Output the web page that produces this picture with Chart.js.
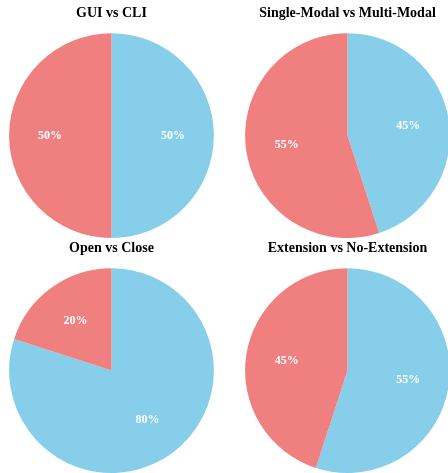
<!DOCTYPE html>
<html>
<head>
<meta charset="utf-8">
<script src="https://cdn.jsdelivr.net/npm/chart.js@4/dist/chart.umd.min.js"></script>
<style>
  html, body { margin: 0; padding: 0; background: #ffffff; overflow: hidden; width: 448px; height: 473px; }
  .cell { position: absolute; width: 205px; height: 238px; }
</style>
</head>
<body>
<div class="cell" style="left:8.5px; top:0px;"><canvas id="p0" width="205" height="238"></canvas></div>
<div class="cell" style="left:244.5px; top:0px;"><canvas id="p1" width="205" height="238"></canvas></div>
<div class="cell" style="left:8.5px; top:235.3px;"><canvas id="p2" width="205" height="238"></canvas></div>
<div class="cell" style="left:244.5px; top:235.3px;"><canvas id="p3" width="205" height="238"></canvas></div>
<script>
// Panel titles
const titles = ['GUI vs CLI', 'Single-Modal vs Multi-Modal', 'Open vs Close', 'Extension vs No-Extension'];
// Slice names per panel, listed clockwise from 12 o'clock
const categories = [
  ['CLI', 'GUI'],
  ['Multi-Modal', 'Single-Modal'],
  ['Open', 'Close'],
  ['Extension', 'No-Extension']
];
// Slice shares (percent), same order as categories
const blueShares = [50, 45, 80, 55];
const redShares = [50, 55, 20, 45];
const sliceColors = ['#87CEEB', '#F08080'];

// White percentage labels placed at 60% of the radius, like autopct
const pctLabels = {
  id: 'pctLabels',
  afterDatasetsDraw(chart) {
    const ctx = chart.ctx;
    const meta = chart.getDatasetMeta(0);
    const data = chart.data.datasets[0].data;
    ctx.save();
    ctx.fillStyle = '#ffffff';
    ctx.font = 'bold 12px "Liberation Serif", "Times New Roman", serif';
    ctx.textAlign = 'center';
    ctx.textBaseline = 'middle';
    meta.data.forEach((arc, i) => {
      const p = arc.getProps(['x', 'y', 'startAngle', 'endAngle', 'outerRadius'], true);
      const mid = (p.startAngle + p.endAngle) / 2;
      const r = p.outerRadius * 0.6;
      ctx.fillText(data[i] + '%', p.x + Math.cos(mid) * r, p.y + Math.sin(mid) * r);
    });
    ctx.restore();
  }
};

titles.forEach((t, k) => {
  new Chart(document.getElementById('p' + k), {
    type: 'pie',
    data: {
      labels: categories[k],
      datasets: [{
        data: [blueShares[k], redShares[k]],
        backgroundColor: sliceColors,
        borderWidth: 0,
        hoverOffset: 0
      }]
    },
    options: {
      responsive: false,
      animation: false,
      devicePixelRatio: 1,
      rotation: 0,
      layout: { padding: 0 },
      events: [],
      plugins: {
        legend: { display: false },
        tooltip: { enabled: false },
        title: {
          display: true,
          text: t,
          color: '#000000',
          font: { family: '"Liberation Serif", "Times New Roman", serif', size: 14, weight: 'bold', lineHeight: 1.2 },
          padding: { top: 5, bottom: 11.4 }
        }
      }
    },
    plugins: [pctLabels]
  });
});
</script>
</body>
</html>
